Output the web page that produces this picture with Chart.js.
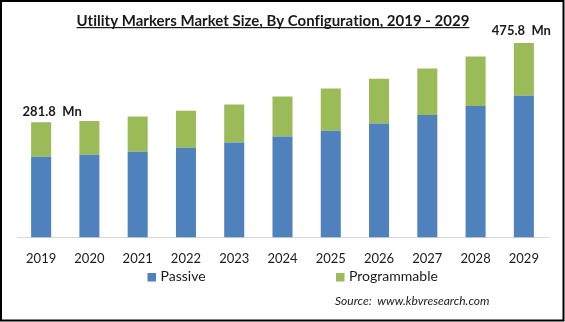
<!DOCTYPE html>
<html>
<head>
<meta charset="utf-8">
<script src="https://cdn.jsdelivr.net/npm/chart.js@4/dist/chart.umd.min.js"></script>
<style>
  html, body { margin: 0; padding: 0; background: #ffffff; }
  #wrap { width: 565px; height: 322px; }
</style>
</head>
<body>
<div id="wrap"><canvas id="c" width="565" height="322"></canvas></div>
<script>
// Utility markers market size by configuration (USD Mn)
const years = ['2019', '2020', '2021', '2022', '2023', '2024', '2025', '2026', '2027', '2028', '2029'];
const passive = [197.8, 202.7, 210.0, 219.8, 232.1, 246.8, 261.4, 278.6, 299.9, 321.9, 346.4];
const programmable = [84.0, 82.5, 85.7, 90.4, 93.0, 97.9, 102.9, 109.9, 113.3, 120.7, 129.4];
const seriesNames = ['Passive', 'Programmable'];
const seriesColors = ['#4f81bd', '#9bbb59'];
const titleText = 'Utility Markers Market Size, By Configuration, 2019 - 2029';
const sourceText = 'Source:  www.kbvresearch.com';

const FONT = 'Lato, Calibri, Carlito, "Open Sans", sans-serif';
const TEXT = '#1a1a1a';

const totals = years.map((_, i) => passive[i] + programmable[i]);

// Title, end-value callouts, legend, source line and frame
const decorations = {
  id: 'decorations',
  afterDraw(chart) {
    const ctx = chart.ctx;
    const x = chart.scales.x, y = chart.scales.y;
    ctx.save();

    // title, underlined (tiny letter spacing keeps "ti" from forming a ligature)
    if ('letterSpacing' in ctx) ctx.letterSpacing = '0.01px';
    ctx.fillStyle = TEXT;
    ctx.font = 'bold 15px ' + FONT;
    ctx.textAlign = 'center';
    ctx.textBaseline = 'alphabetic';
    const tw = Math.min(ctx.measureText(titleText).width, 402);
    ctx.fillText(titleText, 273, 25.7, 402);
    ctx.fillRect(273 - tw / 2, 27, tw, 1.2);

    // value callouts on the first and last year
    ctx.font = 'bold 13px ' + FONT;
    const first = 0, last = years.length - 1;
    ctx.fillText(totals[first].toFixed(1) + '  Mn', x.getPixelForValue(first) + 11, y.getPixelForValue(totals[first]) - 6.5);
    ctx.fillText(totals[last].toFixed(1) + '  Mn', x.getPixelForValue(last) - 2.5, y.getPixelForValue(totals[last]) - 7.5);

    // legend
    ctx.font = '14px ' + FONT;
    ctx.textAlign = 'left';
    const legendItems = [
      { box: 147.5, text: 160.5 },
      { box: 336, text: 349 }
    ];
    legendItems.forEach((p, i) => {
      ctx.fillStyle = seriesColors[i];
      ctx.fillRect(p.box, 273, 8.5, 8.5);
      ctx.fillStyle = TEXT;
      ctx.fillText(seriesNames[i], p.text, 280.5);
    });

    // source
    ctx.font = 'italic 12px ' + FONT;
    ctx.fillText(sourceText, 335, 304.5, 161);

    // frame
    ctx.strokeStyle = '#000000';
    ctx.lineWidth = 2;
    ctx.strokeRect(1, 1, 562.5, 319.5);
    ctx.restore();
  }
};

new Chart(document.getElementById('c'), {
  type: 'bar',
  data: {
    labels: years,
    datasets: [
      { label: seriesNames[0], data: passive, backgroundColor: seriesColors[0], borderWidth: 0 },
      { label: seriesNames[1], data: programmable, backgroundColor: seriesColors[1], borderWidth: 0 }
    ]
  },
  options: {
    responsive: false,
    animation: false,
    devicePixelRatio: 1,
    layout: { padding: { left: 17, right: 17, top: 33, bottom: 0 } },
    plugins: {
      legend: { display: false },
      title: { display: false },
      tooltip: { enabled: false }
    },
    datasets: { bar: { categoryPercentage: 1, barPercentage: 0.415 } },
    scales: {
      x: {
        stacked: true,
        grid: { display: false, drawTicks: false },
        border: { display: true, color: '#d9d9d9', width: 1 },
        ticks: { color: TEXT, font: { family: FONT, size: 13 }, padding: 13, maxRotation: 0, autoSkip: false },
        afterFit(scale) { scale.height = 84.4; }
      },
      y: {
        stacked: true,
        display: false,
        min: 0,
        max: 500
      }
    }
  },
  plugins: [decorations]
});
</script>
</body>
</html>
